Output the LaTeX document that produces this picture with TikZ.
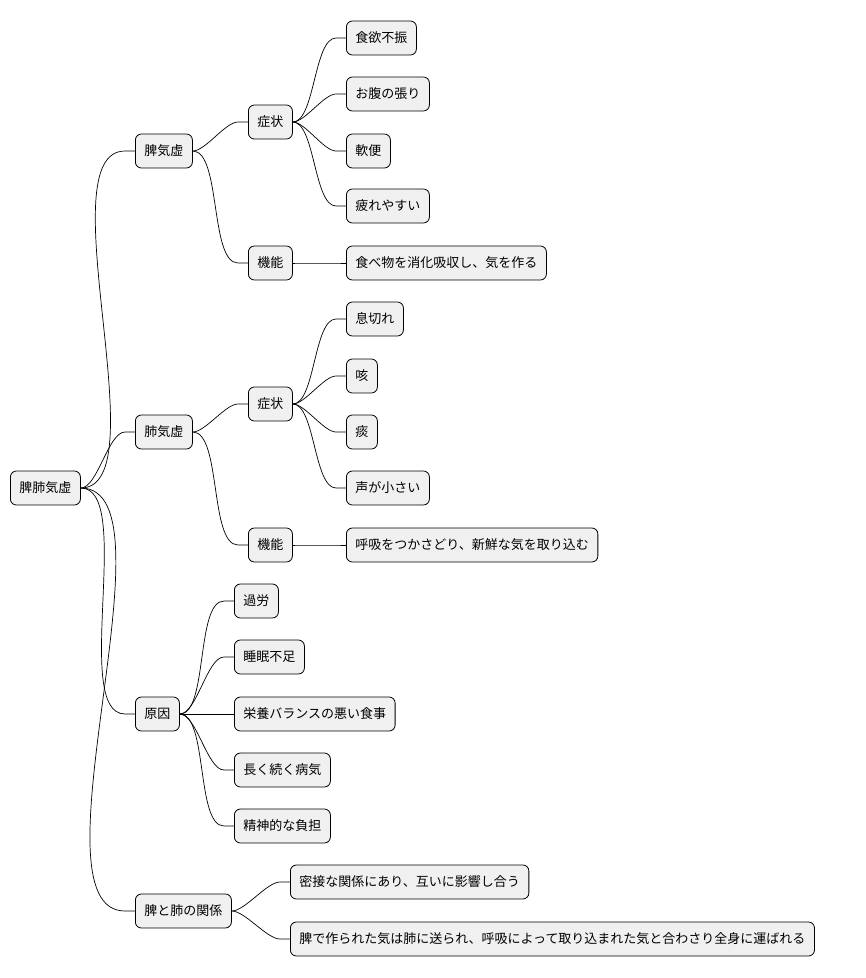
\documentclass[tikz,border=0pt]{standalone}
\usepackage{fontspec}
\setmainfont{Noto Sans CJK JP}
\usetikzlibrary{calc}
\tikzset{
  mm/.style={draw=black, line width=0.8pt, fill=black!6, rounded corners=6pt, anchor=west,
    minimum height=34pt, inner xsep=9pt, font=\fontsize{13}{15}\selectfont},
  lk/.style={draw=black, line width=0.7pt}
}
\newcommand{\lnk}[2]{\draw[lk] (#1.east) to[out=0,in=180,looseness=0.6] ($(#2.west)+(-10pt,0)$) -- (#2.west);}
\begin{document}
\begin{tikzpicture}[x=1pt,y=-1pt]
\useasboundingbox (0,0) rectangle (866,978);
\node[mm] (r) at (10,488) {脾肺気虚};
\node[mm] (a) at (135,151) {脾気虚};
\node[mm] (a1) at (248,122) {症状};
\node[mm] (a11) at (346,38) {食欲不振};
\node[mm] (a12) at (346,94) {お腹の張り};
\node[mm] (a13) at (346,151) {軟便};
\node[mm] (a14) at (346,206) {疲れやすい};
\node[mm] (a2) at (248,263) {機能};
\node[mm] (a21) at (346,263) {食べ物を消化吸収し、気を作る};
\node[mm] (b) at (135,432) {肺気虚};
\node[mm] (b1) at (248,404) {症状};
\node[mm] (b11) at (346,319) {息切れ};
\node[mm] (b12) at (346,376) {咳};
\node[mm] (b13) at (346,432) {痰};
\node[mm] (b14) at (346,488) {声が小さい};
\node[mm] (b2) at (248,545) {機能};
\node[mm] (b21) at (346,545) {呼吸をつかさどり、新鮮な気を取り込む};
\node[mm] (c) at (135,714) {原因};
\node[mm] (c1) at (234,601) {過労};
\node[mm] (c2) at (234,657) {睡眠不足};
\node[mm] (c3) at (234,714) {栄養バランスの悪い食事};
\node[mm] (c4) at (234,770) {長く続く病気};
\node[mm] (c5) at (234,826) {精神的な負担};
\node[mm] (d) at (135,911) {脾と肺の関係};
\node[mm] (d1) at (290,882) {密接な関係にあり、互いに影響し合う};
\node[mm] (d2) at (290,939) {脾で作られた気は肺に送られ、呼吸によって取り込まれた気と合わさり全身に運ばれる};
\lnk{r}{a}\lnk{r}{b}\lnk{r}{c}\lnk{r}{d}
\lnk{a}{a1}\lnk{a}{a2}
\lnk{a1}{a11}\lnk{a1}{a12}\lnk{a1}{a13}\lnk{a1}{a14}\lnk{a2}{a21}
\lnk{b}{b1}\lnk{b}{b2}
\lnk{b1}{b11}\lnk{b1}{b12}\lnk{b1}{b13}\lnk{b1}{b14}\lnk{b2}{b21}
\lnk{c}{c1}\lnk{c}{c2}\lnk{c}{c3}\lnk{c}{c4}\lnk{c}{c5}
\lnk{d}{d1}\lnk{d}{d2}
\end{tikzpicture}
\end{document}
